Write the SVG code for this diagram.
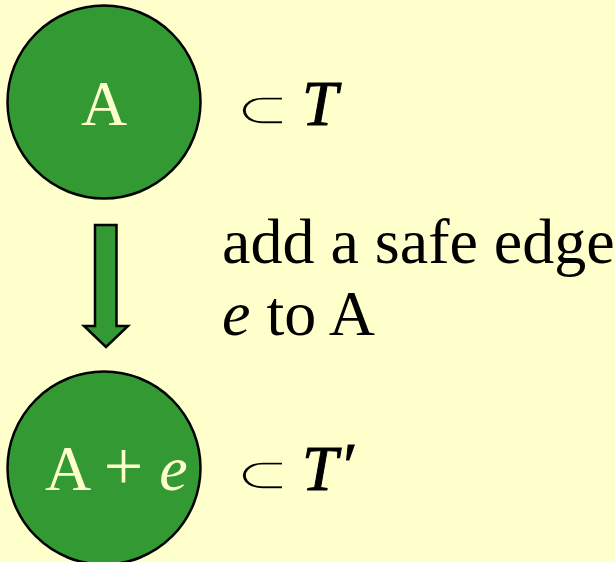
<svg xmlns="http://www.w3.org/2000/svg" width="615" height="562" viewBox="0 0 615 562">
<style>
.node{fill:#339933;stroke:#000;stroke-width:2.5}
.in{font-family:"Liberation Serif","DejaVu Serif",serif;font-size:64px;fill:#FFFFCC}
.t{font-family:"Liberation Serif","DejaVu Serif",serif;font-size:64px;fill:#000}
.sub{font-family:"DejaVu Serif",serif;font-size:60px;fill:#000;stroke:#FFFFCC;stroke-width:2}
.i{font-style:italic}
.ti{font-style:italic;stroke:#000;stroke-width:1}
</style>
<rect width="615" height="562" fill="#FFFFCC"/>
<g id="nodeA">
<circle class="node" cx="104" cy="102" r="96.5"/>
<text class="in" x="104" y="125" text-anchor="middle">A</text>
</g>
<g id="labelA">
<text class="sub" transform="translate(262.5,123.5) scale(1.1,0.72)" text-anchor="middle">⊂</text>
<text class="t ti" x="302" y="125">T</text>
</g>
<g id="connectors">
<path d="M95,225 H116.5 V326 H128 L106,347 L84,326 H95 Z" fill="#339933" stroke="#000" stroke-width="2.5" stroke-linejoin="miter"/>
</g>
<g id="edgeLabel">
<text class="t" x="222" y="263">add a safe edge</text>
<text class="t" x="222" y="335"><tspan class="i">e</tspan> to A</text>
</g>
<g id="nodeAe">
<circle class="node" cx="104" cy="468" r="96.5"/>
<text class="in" x="45" y="490">A <tspan font-size="70">+</tspan> <tspan class="i">e</tspan></text>
</g>
<g id="labelAe">
<text class="sub" transform="translate(262.5,488.5) scale(1.1,0.72)" text-anchor="middle">⊂</text>
<text class="t ti" x="302" y="490">T<tspan dx="2" dy="-3">′</tspan></text>
</g>
</svg>
